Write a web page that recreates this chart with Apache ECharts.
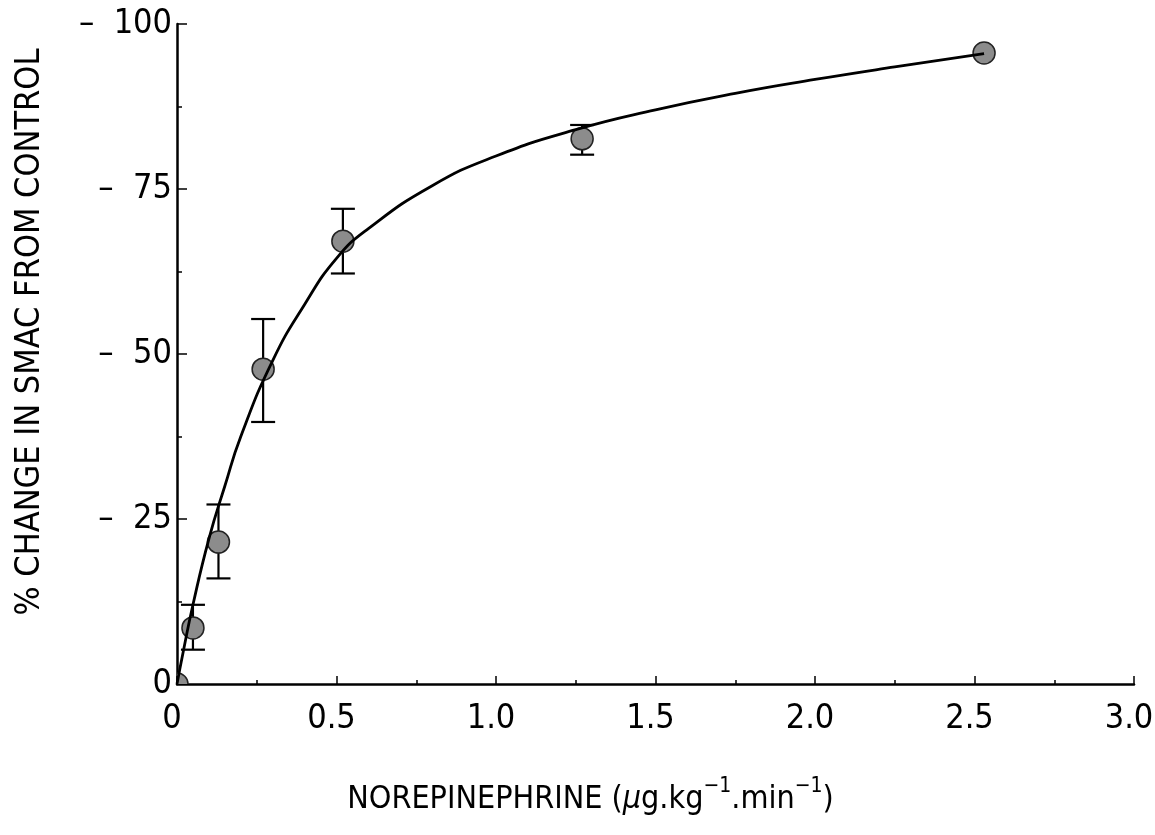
<!DOCTYPE html>
<html>
<head>
<meta charset="utf-8">
<script src="https://cdn.jsdelivr.net/npm/echarts@6/dist/echarts.min.js"></script>
<style>html,body{margin:0;padding:0;background:#fff}#c{width:1155px;height:835px}</style>
</head>
<body>
<div id="c"></div>
<script>
// Observed data points: dose, mean % change, upper / lower error bar
const doses   = [0, 0.05, 0.13, 0.27, 0.52, 1.27, 2.53];
const means   = [0, 8.5, 21.5, 47.7, 67.1, 82.6, 95.6];
const errHigh = [null, 12.0, 27.2, 55.3, 72.0, 84.7, null];
const errLow  = [null, 5.2, 16.0, 39.7, 62.2, 80.2, null];

// Fitted curve
const curveX = [0, 0.02, 0.05, 0.1, 0.15, 0.2, 0.3, 0.4, 0.5, 0.6, 0.8, 1.0, 1.25, 1.5, 1.75, 2.0, 2.25, 2.53];
const curveY = [0, 5, 12, 22, 30, 37.5, 49, 57.5, 64.5, 69, 75.5, 80, 84, 87, 89.5, 91.6, 93.5, 95.5];

const xTicks = [0, 0.5, 1.0, 1.5, 2.0, 2.5, 3.0];
const xTickLabels = ['0', '0.5', '1.0', '1.5', '2.0', '2.5', '3.0'];
const yTicks = [0, 25, 50, 75, 100];

const FONT = "'Liberation Sans Narrow', 'DejaVu Sans Condensed', 'DejaVu Sans', sans-serif";

const chart = echarts.init(document.getElementById('c'));
const errData = [];
for (let i = 0; i < doses.length; i++) {
  if (errHigh[i] != null) errData.push([doses[i], errLow[i], errHigh[i]]);
}
chart.setOption({
  animation: false,
  backgroundColor: '#fff',
  grid: { left: 177, right: 21, top: 24, bottom: 151, containLabel: false, outerBoundsMode: 'none' },
  xAxis: {
    type: 'value', min: 0, max: 3, interval: 0.5,
    axisLine: { show: true, lineStyle: { color: '#000', width: 2.5 } },
    axisTick: { show: true, inside: true, length: 8, lineStyle: { color: '#000', width: 1.5 } },
    minorTick: { show: true, splitNumber: 2, length: 4, lineStyle: { color: '#000', width: 1.5 } },
    splitLine: { show: false },
    axisLabel: {
      margin: 18, color: '#000', fontSize: 34, fontFamily: FONT, padding: [0, 10, 0, 0],
      formatter: v => { const i = xTicks.findIndex(t => Math.abs(t - v) < 1e-9); return i >= 0 ? xTickLabels[i] : ''; }
    },
    name: '{n|NOREPINEPHRINE (}{m|μ}{n|g.kg}{s|−1}{n|.min}{s|−1}{n|)}',
    nameLocation: 'middle', nameGap: 92,
    nameTextStyle: {
      padding: [0, 130, 0, 0],
      rich: {
        n: { fontSize: 32, fontFamily: FONT, color: '#000', verticalAlign: 'bottom', lineHeight: 40 },
        m: { fontSize: 32, fontFamily: FONT, fontStyle: 'italic', color: '#000', verticalAlign: 'bottom', lineHeight: 40 },
        s: { fontSize: 21, fontFamily: FONT, color: '#000', verticalAlign: 'top', lineHeight: 40, padding: [0, 0, 14, 0] }
      }
    }
  },
  yAxis: {
    type: 'value', min: 0, max: 100, interval: 25,
    axisLine: { show: true, lineStyle: { color: '#000', width: 2.5 } },
    axisTick: { show: true, inside: true, length: 10, lineStyle: { color: '#000', width: 1.5 } },
    minorTick: { show: true, splitNumber: 2, length: 5, lineStyle: { color: '#000', width: 1.5 } },
    splitLine: { show: false },
    axisLabel: {
      margin: 5, color: '#000', fontSize: 34, fontFamily: FONT,
      formatter: v => (v === 0 ? '0' : '–  ' + v)
    },
    name: '% CHANGE IN SMAC FROM CONTROL',
    nameLocation: 'middle', nameGap: 130, nameRotate: 90,
    nameTextStyle: { fontSize: 34, fontFamily: FONT, color: '#000', padding: [0, 0, 0, 44] }
  },
  series: [
    {
      type: 'custom', z: 2, data: errData,
      renderItem: (params, api) => {
        const x = api.value(0);
        const lo = api.coord([x, api.value(1)]);
        const hi = api.coord([x, api.value(2)]);
        const hw = 12;
        const st = { stroke: '#000', lineWidth: 2.2 };
        return { type: 'group', children: [
          { type: 'line', shape: { x1: lo[0], y1: lo[1], x2: hi[0], y2: hi[1] }, style: st },
          { type: 'line', shape: { x1: lo[0] - hw, y1: lo[1], x2: lo[0] + hw, y2: lo[1] }, style: st },
          { type: 'line', shape: { x1: hi[0] - hw, y1: hi[1], x2: hi[0] + hw, y2: hi[1] }, style: st }
        ]};
      }
    },
    {
      type: 'custom', z: 3, clip: true,
      data: doses.map((d, i) => [d, means[i]]),
      renderItem: (params, api) => {
        const p = api.coord([api.value(0), api.value(1)]);
        const cs = params.coordSys;
        return {
          type: 'circle',
          shape: { cx: p[0], cy: p[1], r: 11 },
          style: { fill: '#8c8c8c', stroke: '#222', lineWidth: 1.5 },
          clipPath: { type: 'rect', shape: { x: cs.x, y: cs.y, width: cs.width, height: cs.height } }
        };
      }
    },
    {
      type: 'line', z: 4, smooth: true, showSymbol: false, symbol: 'none',
      data: curveX.map((d, i) => [d, curveY[i]]),
      lineStyle: { color: '#000', width: 2.8 }
    }
  ]
});
</script>
</body>
</html>
